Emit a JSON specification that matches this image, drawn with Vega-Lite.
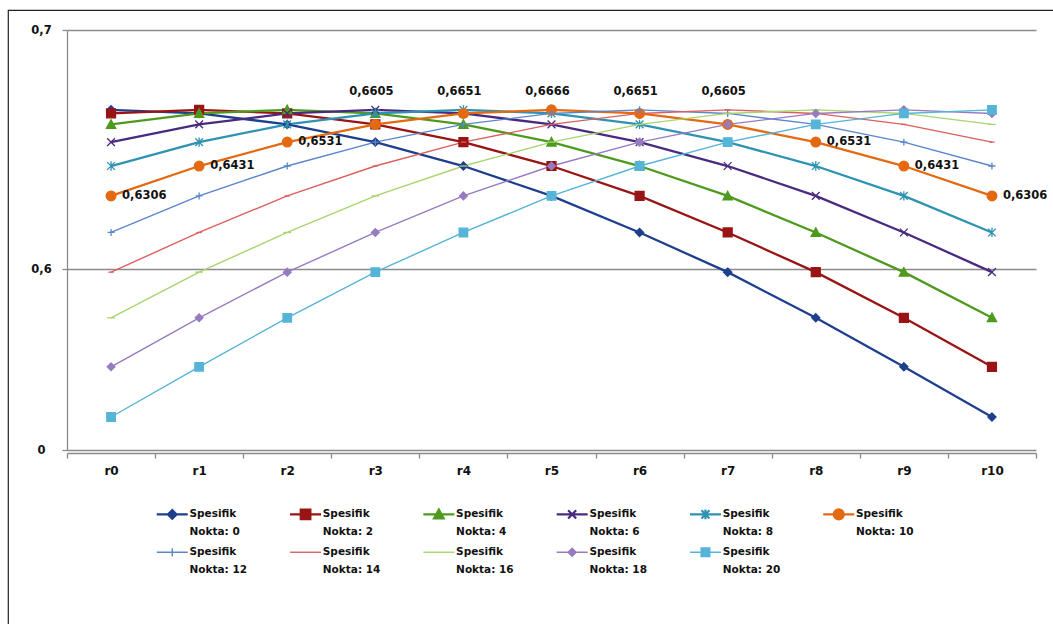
{
  "$schema": "https://vega.github.io/schema/vega-lite/v6.json",
  "width": 1045,
  "height": 614,
  "autosize": {"type": "none"},
  "padding": {"left": 8, "top": 10, "right": 0, "bottom": 0},
  "background": "white",
  "params": [
    {
      "name": "legendPaths",
      "value": [
        "M-1,0H1M0,-0.28L0.28,0L0,0.28L-0.28,0Z",
        "M-1,0H1M-0.31,-0.31H0.31V0.31H-0.31Z",
        "M-1,0H1M0,-0.31L0.31,0.26L-0.31,0.26Z",
        "M-1,0H1M-0.26,-0.26L0.26,0.26M-0.26,0.26L0.26,-0.26",
        "M-1,0H1M-0.26,-0.26L0.26,0.26M-0.26,0.26L0.26,-0.26M0,-0.31V0.31",
        "M-1,0H1M-0.32,0A0.32,0.32,0,1,0,0.32,0A0.32,0.32,0,1,0,-0.32,0Z",
        "M-1,0H1M0,-0.26V0.26",
        "M-1,0H1",
        "M-1,0H1",
        "M-1,0H1M0,-0.26L0.26,0L0,0.26L-0.26,0Z",
        "M-1,0H1M-0.28,-0.28H0.28V0.28H-0.28Z"
      ]
    }
  ],
  "datasets": {
    "nokta": [
      {"n": 0, "r0": 0.6666, "r1": 0.6651, "r2": 0.6605, "r3": 0.6531, "r4": 0.6431, "r5": 0.6306, "r6": 0.6153, "r7": 0.5987, "r8": 0.5796, "r9": 0.5591, "r10": 0.5381},
      {"n": 2, "r0": 0.6651, "r1": 0.6666, "r2": 0.6651, "r3": 0.6605, "r4": 0.6531, "r5": 0.6431, "r6": 0.6306, "r7": 0.6153, "r8": 0.5987, "r9": 0.5796, "r10": 0.5591},
      {"n": 4, "r0": 0.6605, "r1": 0.6651, "r2": 0.6666, "r3": 0.6651, "r4": 0.6605, "r5": 0.6531, "r6": 0.6431, "r7": 0.6306, "r8": 0.6153, "r9": 0.5987, "r10": 0.5796},
      {"n": 6, "r0": 0.6531, "r1": 0.6605, "r2": 0.6651, "r3": 0.6666, "r4": 0.6651, "r5": 0.6605, "r6": 0.6531, "r7": 0.6431, "r8": 0.6306, "r9": 0.6153, "r10": 0.5987},
      {"n": 8, "r0": 0.6431, "r1": 0.6531, "r2": 0.6605, "r3": 0.6651, "r4": 0.6666, "r5": 0.6651, "r6": 0.6605, "r7": 0.6531, "r8": 0.6431, "r9": 0.6306, "r10": 0.6153},
      {"n": 10, "r0": 0.6306, "r1": 0.6431, "r2": 0.6531, "r3": 0.6605, "r4": 0.6651, "r5": 0.6666, "r6": 0.6651, "r7": 0.6605, "r8": 0.6531, "r9": 0.6431, "r10": 0.6306},
      {"n": 12, "r0": 0.6153, "r1": 0.6306, "r2": 0.6431, "r3": 0.6531, "r4": 0.6605, "r5": 0.6651, "r6": 0.6666, "r7": 0.6651, "r8": 0.6605, "r9": 0.6531, "r10": 0.6431},
      {"n": 14, "r0": 0.5987, "r1": 0.6153, "r2": 0.6306, "r3": 0.6431, "r4": 0.6531, "r5": 0.6605, "r6": 0.6651, "r7": 0.6666, "r8": 0.6651, "r9": 0.6605, "r10": 0.6531},
      {"n": 16, "r0": 0.5796, "r1": 0.5987, "r2": 0.6153, "r3": 0.6306, "r4": 0.6431, "r5": 0.6531, "r6": 0.6605, "r7": 0.6651, "r8": 0.6666, "r9": 0.6651, "r10": 0.6605},
      {"n": 18, "r0": 0.5591, "r1": 0.5796, "r2": 0.5987, "r3": 0.6153, "r4": 0.6306, "r5": 0.6431, "r6": 0.6531, "r7": 0.6605, "r8": 0.6651, "r9": 0.6666, "r10": 0.6651},
      {"n": 20, "r0": 0.5381, "r1": 0.5591, "r2": 0.5796, "r3": 0.5987, "r4": 0.6153, "r5": 0.6306, "r6": 0.6431, "r7": 0.6531, "r8": 0.6605, "r9": 0.6651, "r10": 0.6666}
    ]
  },
  "data": {"name": "nokta"},
  "transform": [
    {"fold": ["r0", "r1", "r2", "r3", "r4", "r5", "r6", "r7", "r8", "r9", "r10"], "as": ["r", "v"]},
    {"joinaggregate": [{"op": "max", "field": "v", "as": "top"}], "groupby": ["r"]},
    {"calculate": "replace(format(datum.v, '.4f'), '.', ',')", "as": "label"}
  ],
  "encoding": {
    "x": {
      "field": "r",
      "type": "ordinal",
      "sort": null,
      "scale": {
        "type": "band",
        "domain": ["r0", "r1", "r2", "r3", "r4", "r5", "r6", "r7", "r8", "r9", "r10"],
        "range": [59, 1028],
        "paddingInner": 0,
        "paddingOuter": 0
      },
      "axis": {
        "title": null,
        "offset": -171,
        "labelAngle": 0,
        "tickBand": "extent",
        "tickSize": 5,
        "tickColor": "#8a8a8a",
        "tickWidth": 1.3,
        "domainColor": "#8a8a8a",
        "domainWidth": 1.3,
        "labelPadding": 7,
        "labelFont": "DejaVu Sans",
        "labelFontWeight": "bold",
        "labelFontSize": 12,
        "labelColor": "#111111",
        "grid": false
      }
    },
    "y": {
      "field": "v",
      "type": "quantitative",
      "scale": {"domain": [0.5243, 0.7], "range": [440, 20], "zero": false, "nice": false},
      "axis": {
        "title": null,
        "offset": -59,
        "values": [0.5243, 0.6, 0.7],
        "labelExpr": "datum.value < 0.55 ? '0' : replace(format(datum.value, '.1f'), '.', ',')",
        "tickSize": 5,
        "tickColor": "#8a8a8a",
        "tickWidth": 1.3,
        "domainColor": "#8a8a8a",
        "domainWidth": 1.3,
        "grid": true,
        "gridColor": "#8a8a8a",
        "gridWidth": 1.3,
        "labelAlign": "center",
        "labelPadding": 21,
        "labelFont": "DejaVu Sans",
        "labelFontWeight": "bold",
        "labelFontSize": 11.5,
        "labelColor": "#111111"
      }
    },
    "color": {
      "field": "n",
      "type": "nominal",
      "scale": {
        "domain": [0, 2, 4, 6, 8, 10, 12, 14, 16, 18, 20],
        "range": ["#1e3f8e", "#991414", "#4e9a1e", "#4a2a80", "#2e93b3", "#e46a12", "#5b86cb", "#dc5f5f", "#a9d46e", "#977bc1", "#56b4d8"]
      },
      "legend": {
        "orient": "none",
        "legendX": 159,
        "legendY": 499,
        "direction": "horizontal",
        "columns": 6,
        "gridAlign": "all",
        "columnPadding": 37.3,
        "rowPadding": 7,
        "padding": 0,
        "title": null,
        "symbolSize": 961,
        "labelOffset": 12,
        "labelFont": "DejaVu Sans",
        "labelFontWeight": "bold",
        "labelFontSize": 10.5,
        "labelColor": "#111111",
        "labelBaseline": "top",
        "labelLimit": 0,
        "labelExpr": "['Spesifik', 'Nokta: ' + datum.label]",
        "encode": {
          "symbols": {
            "update": {
              "shape": {"signal": "legendPaths[datum.value / 2]"},
              "fill": {"signal": "scale('color', datum.value)"},
              "stroke": {"signal": "scale('color', datum.value)"},
              "strokeWidth": {"signal": "datum.value >= 12 ? 1.4 : 2.2"},
              "opacity": {"value": 1}
            }
          },
          "labels": {
            "update": {
              "dy": {"value": -5},
              "lineHeight": {"value": 18}
            }
          }
        }
      }
    }
  },
  "layer": [
    {
      "mark": {"type": "line", "interpolate": "linear"},
      "encoding": {
        "strokeWidth": {"condition": {"test": "datum.n >= 12", "value": 1.4}, "value": 2.3}
      }
    },
    {
      "mark": {"type": "point", "filled": true, "opacity": 1, "size": 60, "strokeWidth": 1.3},
      "encoding": {
        "shape": {
          "condition": [
            {"test": "datum.n == 0", "value": "M0,-1.05L1.05,0L0,1.05L-1.05,0Z"},
            {"test": "datum.n == 2", "value": "M-1.15,-1.15H1.15V1.15H-1.15Z"},
            {"test": "datum.n == 4", "value": "M0,-1.2L1.2,1L-1.2,1Z"},
            {"test": "datum.n == 6", "value": "M-1,-1L1,1M-1,1L1,-1"},
            {"test": "datum.n == 8", "value": "M-1,-1L1,1M-1,1L1,-1M0,-1.2V1.2"},
            {"test": "datum.n == 10", "value": "M-1.25,0A1.25,1.25,0,1,0,1.25,0A1.25,1.25,0,1,0,-1.25,0Z"},
            {"test": "datum.n == 12", "value": "M-0.9,0H0.9M0,-0.9V0.9"},
            {"test": "datum.n == 14", "value": "M-0.7,0H0.7"},
            {"test": "datum.n == 16", "value": "M-1,0H1"},
            {"test": "datum.n == 18", "value": "M0,-1L1,0L0,1L-1,0Z"}
          ],
          "value": "M-1.1,-1.1H1.1V1.1H-1.1Z"
        },
        "stroke": {
          "field": "n",
          "type": "nominal",
          "scale": {
            "domain": [0, 2, 4, 6, 8, 10, 12, 14, 16, 18, 20],
            "range": ["#1e3f8e", "#991414", "#4e9a1e", "#4a2a80", "#2e93b3", "#e46a12", "#5b86cb", "#dc5f5f", "#a9d46e", "#977bc1", "#56b4d8"]
          },
          "legend": null
        }
      }
    },
    {
      "transform": [
        {"filter": "datum.n == 10"},
        {"filter": {"field": "r", "oneOf": ["r0", "r1", "r2", "r8", "r9", "r10"]}}
      ],
      "mark": {
        "type": "text",
        "align": "left",
        "baseline": "middle",
        "dx": 11,
        "font": "DejaVu Sans",
        "fontWeight": "bold",
        "fontSize": 11.5
      },
      "encoding": {
        "text": {"field": "label"},
        "color": {"value": "#111111"}
      }
    },
    {
      "transform": [
        {"filter": "datum.n == 10"},
        {"filter": {"field": "r", "oneOf": ["r3", "r4", "r5", "r6", "r7"]}}
      ],
      "mark": {
        "type": "text",
        "align": "center",
        "baseline": "middle",
        "dx": -4,
        "dy": -18,
        "font": "DejaVu Sans",
        "fontWeight": "bold",
        "fontSize": 11.5
      },
      "encoding": {
        "y": {"field": "top", "type": "quantitative"},
        "text": {"field": "label"},
        "color": {"value": "#111111"}
      }
    }
  ],
  "config": {
    "view": {"stroke": "#222222", "strokeWidth": 1.2, "strokeDash": [1045, 1659]}
  }
}
